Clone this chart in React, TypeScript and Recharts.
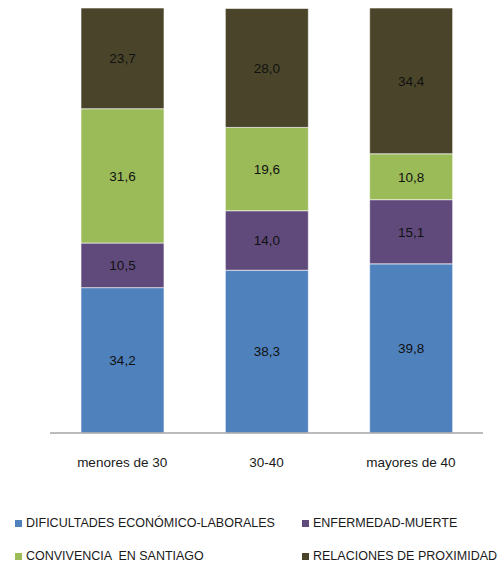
import React from 'react';
import { BarChart, Bar, XAxis, YAxis, LabelList } from 'recharts';

const categories = ['menores de 30', '30-40', 'mayores de 40'];
const dificultades = [34.2, 38.3, 39.8];
const enfermedad = [10.5, 14.0, 15.1];
const convivencia = [31.6, 19.6, 10.8];
const relaciones = [23.7, 28.0, 34.4];

const series = [
    { key: 'dificultades', name: 'DIFICULTADES ECONÓMICO-LABORALES', color: '#4F81BD' },
    { key: 'enfermedad', name: 'ENFERMEDAD-MUERTE', color: '#604A7B' },
    { key: 'convivencia', name: 'CONVIVENCIA  EN SANTIAGO', color: '#9BBB59' },
    { key: 'relaciones', name: 'RELACIONES DE PROXIMIDAD', color: '#4A452A' },
];

const data = categories.map((c, i) => ({
    name: c,
    dificultades: dificultades[i],
    enfermedad: enfermedad[i],
    convivencia: convivencia[i],
    relaciones: relaciones[i],
}));

const font = '"Liberation Sans", Arial, sans-serif';
const fmt = (v: any) => Number(v).toFixed(1).replace('.', ',');

const legendPos = [
    { left: 15, top: 516 },
    { left: 302, top: 516 },
    { left: 15, top: 549 },
    { left: 302, top: 549 },
];

const App: React.FC = () => {
    return (
        <div style={{ position: 'absolute', left: 0, top: 0, width: 497, height: 566, fontFamily: font, background: '#fff' }}>
            <BarChart width={497} height={566} data={data} margin={{ top: 8, right: 14, left: 50, bottom: 103 }}>
                <YAxis hide domain={[0, 100]} allowDataOverflow />
                <XAxis
                    dataKey="name"
                    axisLine={{ stroke: '#A6A6A6', strokeWidth: 1.5 }}
                    tickLine={false}
                    tickSize={0}
                    tickMargin={24}
                    tick={{ fill: '#1a1a1a', fontSize: 13.5, fontFamily: font }}
                    interval={0}
                />
                {series.map((s) => (
                    <Bar key={s.key} dataKey={s.key} stackId="a" fill={s.color} barSize={83}
                        stroke="#ffffff" strokeWidth={0.6} isAnimationActive={false}>
                        <LabelList dataKey={s.key} position="center" formatter={fmt}
                            style={{ fill: '#111', fontSize: 13.5, fontFamily: font }} />
                    </Bar>
                ))}
            </BarChart>
            {series.map((s, i) => (
                <div key={s.key} style={{ position: 'absolute', left: legendPos[i].left, top: legendPos[i].top, display: 'flex', alignItems: 'center', fontSize: 12.5, color: '#1a1a1a', whiteSpace: 'pre' }}>
                    <span style={{ width: 7, height: 7, background: s.color, display: 'inline-block', marginRight: 4 }} />
                    <span>{s.name}</span>
                </div>
            ))}
        </div>
    );
};

export default App;
